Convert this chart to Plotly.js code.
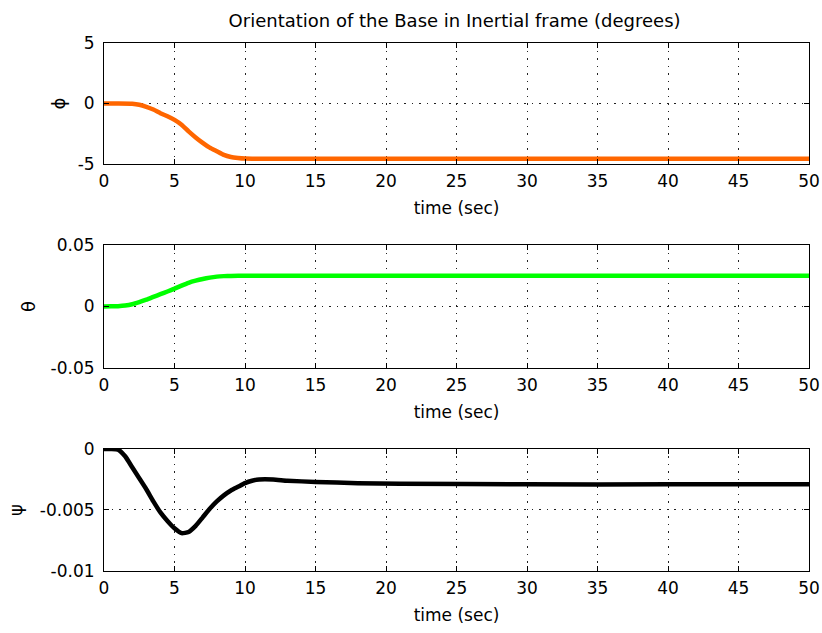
<!DOCTYPE html>
<html>
<head>
<meta charset="utf-8">
<script src="https://cdn.plot.ly/plotly-3.0.1.min.js"></script>
<style>html,body{margin:0;padding:0;background:#fff;}#chart{width:822px;height:633px;}</style>
</head>
<body>
<div id="chart"></div>
<script>
// time samples and series values
const tPhi   = [0, 1, 2, 2.5, 3, 3.5, 4, 4.5, 5, 5.5, 6, 6.5, 7, 7.5, 8, 8.5, 9, 9.5, 10, 11, 20, 30, 40, 50];
const phi    = [0, 0, -0.02, -0.1, -0.27, -0.5, -0.8, -1.05, -1.35, -1.75, -2.3, -2.8, -3.25, -3.65, -3.95, -4.25, -4.42, -4.5, -4.55, -4.57, -4.57, -4.57, -4.57, -4.57];
const tTheta = [0, 0.5, 1, 1.5, 2, 2.5, 3, 3.5, 4, 4.5, 5, 5.5, 6, 6.5, 7, 7.5, 8, 8.5, 9, 10, 20, 30, 40, 50];
const theta  = [0, 0.0001, 0.0003, 0.0008, 0.0018, 0.0035, 0.0055, 0.0078, 0.01, 0.0122, 0.0145, 0.017, 0.0193, 0.021, 0.0224, 0.0235, 0.0243, 0.0247, 0.0249, 0.025, 0.025, 0.025, 0.025, 0.025];
const tPsi   = [0, 0.5, 1, 1.5, 2, 2.5, 3, 3.5, 4, 4.5, 5, 5.5, 6, 6.5, 7, 7.5, 8, 8.5, 9, 9.5, 10, 10.5, 11, 12, 13, 15, 18, 21, 30, 40, 50];
const psi    = [0, 0, -0.00005, -0.0006, -0.0015, -0.0024, -0.0033, -0.0043, -0.0052, -0.0059, -0.0065, -0.0069, -0.0068, -0.0063, -0.0056, -0.0049, -0.0043, -0.0038, -0.0034, -0.0031, -0.0028, -0.0026, -0.0025, -0.0025, -0.0026, -0.0027, -0.0028, -0.00285, -0.0029, -0.0029, -0.0029];
const xTicks = [0, 5, 10, 15, 20, 25, 30, 35, 40, 45, 50];
const titleText = 'Orientation of the Base in Inertial frame (degrees)';
const xLabel = 'time (sec)';
const yLabels = ['ϕ', 'θ', 'ψ'];

const font = {family: 'DejaVu Sans, sans-serif', color: '#000'};

function xaxis(anchor) {
  return {
    anchor: anchor, range: [0, 50], tickvals: xTicks, ticktext: xTicks.map(String),
    ticks: 'inside', ticklen: 5, tickcolor: '#000', mirror: 'allticks',
    showline: true, linecolor: '#000', linewidth: 1,
    showgrid: true, gridcolor: '#222', griddash: '1.5px,6px', gridwidth: 1,
    zeroline: false, tickfont: Object.assign({size: 17}, font), ticklabelstandoff: 2,
    title: {text: xLabel, font: Object.assign({size: 17}, font), standoff: 11}
  };
}
function yaxis(anchor, domain, range, tv, tt, label, so) {
  return {
    anchor: anchor, domain: domain, range: range, tickvals: tv, ticktext: tt,
    ticks: 'inside', ticklen: 5, tickcolor: '#000', mirror: 'allticks',
    showline: true, linecolor: '#000', linewidth: 1,
    showgrid: true, gridcolor: '#222', griddash: '1.5px,6px', gridwidth: 1,
    zeroline: false, tickfont: Object.assign({size: 17}, font), ticklabelstandoff: 5,
    title: {text: label, font: Object.assign({size: 18}, font), standoff: so}
  };
}

const data = [
  {x: tPhi, y: phi, xaxis: 'x', yaxis: 'y', mode: 'lines', line: {color: '#ff6600', width: 4.5, shape: 'spline', smoothing: 0.5}},
  {x: tTheta, y: theta, xaxis: 'x2', yaxis: 'y2', mode: 'lines', line: {color: '#00ff00', width: 4.5, shape: 'spline', smoothing: 0.4}},
  {x: tPsi, y: psi, xaxis: 'x3', yaxis: 'y3', mode: 'lines', line: {color: '#000000', width: 4.5, shape: 'spline', smoothing: 0.5}}
];

const layout = {
  width: 822, height: 633, showlegend: false,
  paper_bgcolor: '#fff', plot_bgcolor: '#fff',
  margin: {l: 104, r: 13, t: 43, b: 62},
  title: {text: titleText, font: Object.assign({size: 18}, font), x: 0.553, xanchor: 'center', y: 0.968, yanchor: 'middle'},
  xaxis: xaxis('y'),
  yaxis: yaxis('x', [0.7708, 1], [-5, 5], [-5, 0, 5], ['-5', '0', '5'], yLabels[0], 7),
  xaxis2: xaxis('y2'),
  yaxis2: yaxis('x2', [0.3845, 0.6174], [-0.05, 0.05], [-0.05, 0, 0.05], ['-0.05', '0', '0.05'], yLabels[1], 10),
  xaxis3: xaxis('y3'),
  yaxis3: yaxis('x3', [0, 0.2311], [-0.01, 0], [-0.01, -0.005, 0], ['-0.01', '-0.005', '0'], yLabels[2], 12)
};

Plotly.newPlot('chart', data, layout, {displayModeBar: false, staticPlot: true});
</script>
</body>
</html>
